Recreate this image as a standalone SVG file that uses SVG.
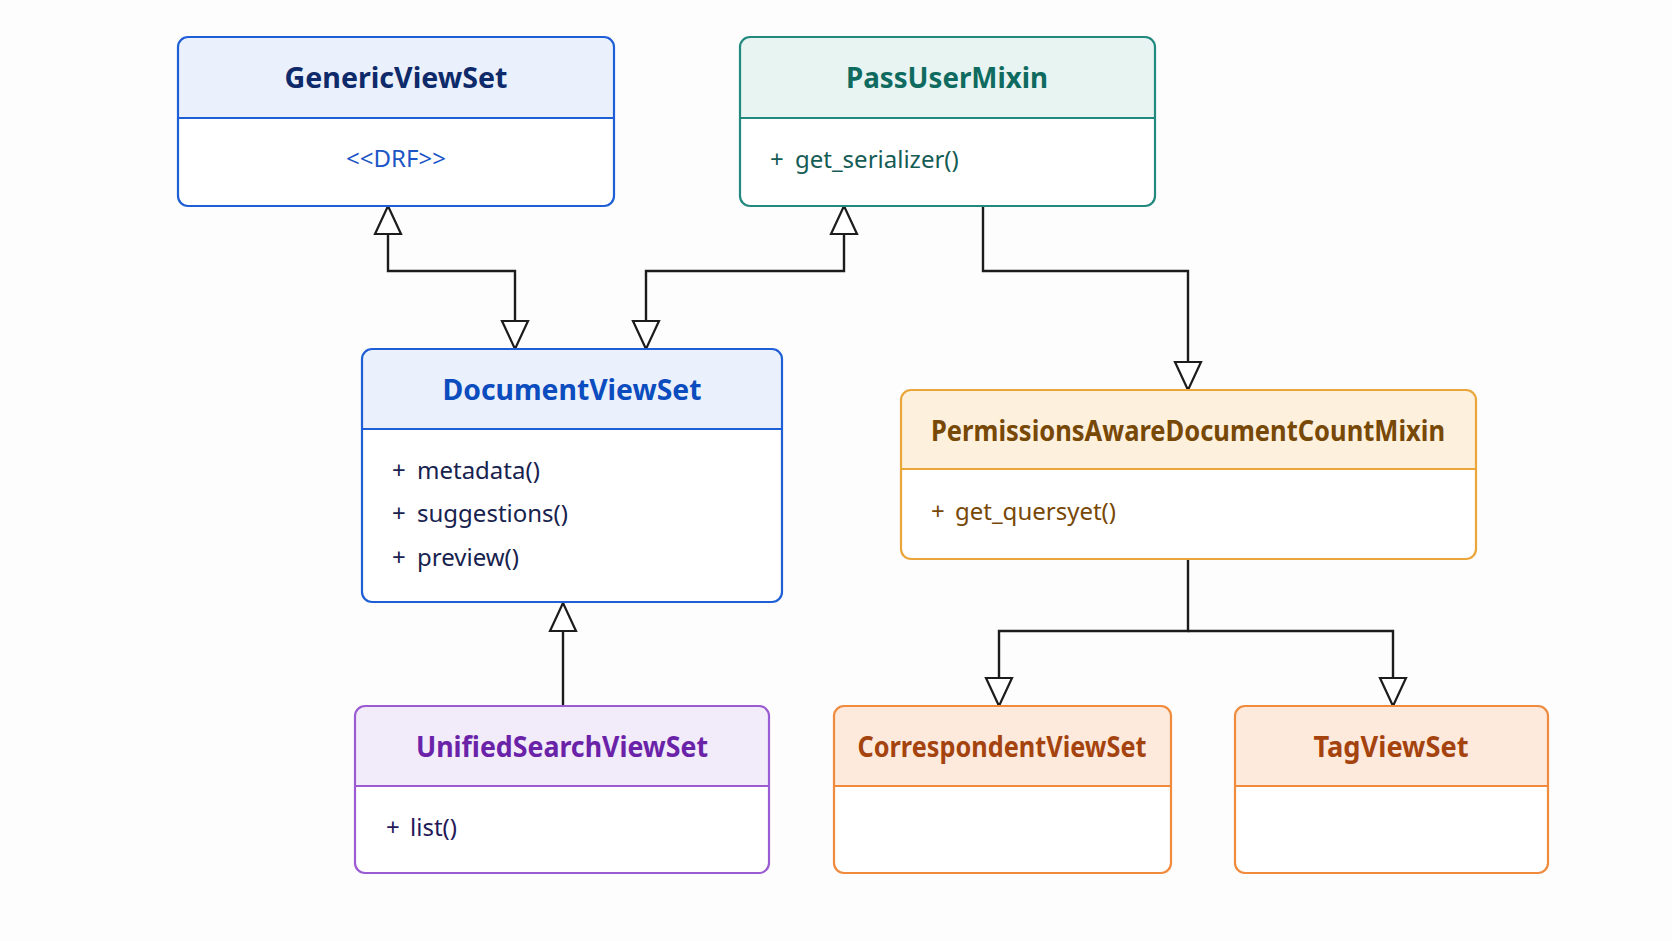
<svg xmlns="http://www.w3.org/2000/svg" width="1672" height="941" viewBox="0 0 1672 941">
<defs>
<style>
.title{font-family:"Noto Sans","Open Sans","DejaVu Sans",sans-serif;font-weight:700;font-size:28px;text-anchor:middle}
.m{font-family:"Noto Sans","Open Sans","DejaVu Sans",sans-serif;font-size:24px}
.out{fill:none;stroke-width:2.2}
.div{stroke-width:1.8}
.conn{fill:none;stroke:#1c1c1c;stroke-width:2.4}
.blue .out,.blue .div{stroke:#1f5fd6}
.blue .hd{fill:#ebf1fc}
.teal .out,.teal .div{stroke:#22897f}
.teal .hd{fill:#e7f4f2}
.amber .out,.amber .div{stroke:#eaa63a}
.amber .hd{fill:#fdf0dd}
.purple .out,.purple .div{stroke:#9b5bd2}
.purple .hd{fill:#f2ebfa}
.orange .out,.orange .div{stroke:#f08a3c}
.orange .hd{fill:#fdeadd}
.bg{fill:#ffffff}
</style>
<marker id="tri" markerUnits="userSpaceOnUse" markerWidth="32" markerHeight="32" viewBox="0 0 32 32" refX="30" refY="16" orient="auto-start-reverse">
<path d="M2,3 L30,16 L2,29 Z" fill="#ffffff" stroke="#1c1c1c" stroke-width="2.2" stroke-linejoin="miter"/>
</marker>
</defs>
<rect width="1672" height="941" fill="#fdfdfe"/>

<g id="connectors">
<path class="conn" d="M388,206 V271 H515 V349" marker-start="url(#tri)" marker-end="url(#tri)"/>
<path class="conn" d="M844,206 V271 H646 V349" marker-start="url(#tri)" marker-end="url(#tri)"/>
<path class="conn" d="M983,206 V271 H1188 V390" marker-end="url(#tri)"/>
<path class="conn" d="M563,706 V603" marker-end="url(#tri)"/>
<path class="conn" d="M1188,559 V631 H999 V706" marker-end="url(#tri)"/>
<path class="conn" d="M1188,631 H1393 V706" marker-end="url(#tri)"/>
</g>

<g id="GenericViewSet" class="blue">
<rect class="bg" x="178" y="37" width="436" height="169" rx="10"/>
<path class="hd" d="M178,118 V47 Q178,37 188,37 H604 Q614,37 614,47 V118 Z"/>
<line class="div" x1="178" y1="118" x2="614" y2="118"/>
<rect class="out" x="178" y="37" width="436" height="169" rx="10"/>
<text class="title" x="396" y="88" fill="#0e2a6a" textLength="223" lengthAdjust="spacingAndGlyphs">GenericViewSet</text>
<text class="m" x="396" y="167" text-anchor="middle" fill="#1b55c6" font-size="26">&lt;&lt;DRF&gt;&gt;</text>
</g>

<g id="PassUserMixin" class="teal">
<rect class="bg" x="740" y="37" width="415" height="169" rx="10"/>
<path class="hd" d="M740,118 V47 Q740,37 750,37 H1145 Q1155,37 1155,47 V118 Z"/>
<line class="div" x1="740" y1="118" x2="1155" y2="118"/>
<rect class="out" x="740" y="37" width="415" height="169" rx="10"/>
<text class="title" x="947" y="88" fill="#0f6b5f" textLength="202" lengthAdjust="spacingAndGlyphs">PassUserMixin</text>
<text class="m" fill="#145c55"><tspan x="770" y="168">+</tspan><tspan x="795" y="168">get_serializer()</tspan></text>
</g>

<g id="DocumentViewSet" class="blue">
<rect class="bg" x="362" y="349" width="420" height="253" rx="10"/>
<path class="hd" d="M362,429 V359 Q362,349 372,349 H772 Q782,349 782,359 V429 Z"/>
<line class="div" x1="362" y1="429" x2="782" y2="429"/>
<rect class="out" x="362" y="349" width="420" height="253" rx="10"/>
<text class="title" x="572" y="400" fill="#0b4cbe" textLength="259" lengthAdjust="spacingAndGlyphs">DocumentViewSet</text>
<text class="m" fill="#17224e"><tspan x="392" y="479">+</tspan><tspan x="417" y="479">metadata()</tspan></text>
<text class="m" fill="#17224e"><tspan x="392" y="522">+</tspan><tspan x="417" y="522">suggestions()</tspan></text>
<text class="m" fill="#17224e"><tspan x="392" y="566">+</tspan><tspan x="417" y="566">preview()</tspan></text>
</g>

<g id="PermissionsAwareDocumentCountMixin" class="amber">
<rect class="bg" x="901" y="390" width="575" height="169" rx="10"/>
<path class="hd" d="M901,469 V400 Q901,390 911,390 H1466 Q1476,390 1476,400 V469 Z"/>
<line class="div" x1="901" y1="469" x2="1476" y2="469"/>
<rect class="out" x="901" y="390" width="575" height="169" rx="10"/>
<text class="title" x="1188" y="441" fill="#774806" textLength="514" lengthAdjust="spacingAndGlyphs">PermissionsAwareDocumentCountMixin</text>
<text class="m" fill="#774806"><tspan x="931" y="520">+</tspan><tspan x="955" y="520">get_quersyet()</tspan></text>
</g>

<g id="UnifiedSearchViewSet" class="purple">
<rect class="bg" x="355" y="706" width="414" height="167" rx="10"/>
<path class="hd" d="M355,786 V716 Q355,706 365,706 H759 Q769,706 769,716 V786 Z"/>
<line class="div" x1="355" y1="786" x2="769" y2="786"/>
<rect class="out" x="355" y="706" width="414" height="167" rx="10"/>
<text class="title" x="562" y="757" fill="#6a23a8" textLength="292" lengthAdjust="spacingAndGlyphs">UnifiedSearchViewSet</text>
<text class="m" fill="#251a58"><tspan x="386" y="836">+</tspan><tspan x="410" y="836">list()</tspan></text>
</g>

<g id="CorrespondentViewSet" class="orange">
<rect class="bg" x="834" y="706" width="337" height="167" rx="10"/>
<path class="hd" d="M834,786 V716 Q834,706 844,706 H1161 Q1171,706 1171,716 V786 Z"/>
<line class="div" x1="834" y1="786" x2="1171" y2="786"/>
<rect class="out" x="834" y="706" width="337" height="167" rx="10"/>
<text class="title" x="1002" y="757" fill="#a5430f" textLength="289" lengthAdjust="spacingAndGlyphs">CorrespondentViewSet</text>
</g>

<g id="TagViewSet" class="orange">
<rect class="bg" x="1235" y="706" width="313" height="167" rx="10"/>
<path class="hd" d="M1235,786 V716 Q1235,706 1245,706 H1538 Q1548,706 1548,716 V786 Z"/>
<line class="div" x1="1235" y1="786" x2="1548" y2="786"/>
<rect class="out" x="1235" y="706" width="313" height="167" rx="10"/>
<text class="title" x="1391" y="757" fill="#a5430f" textLength="155" lengthAdjust="spacingAndGlyphs">TagViewSet</text>
</g>
</svg>
